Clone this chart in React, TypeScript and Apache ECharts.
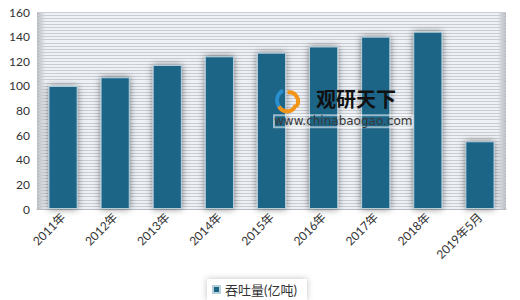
import React, { useEffect, useRef } from "react";
import * as echarts from "echarts";

const categories = ["2011年", "2012年", "2013年", "2014年", "2015年", "2016年", "2017年", "2018年", "2019年5月"];
const throughput = [100, 107, 117, 124, 127, 132, 140, 144, 55];
const yTicks = { min: 0, max: 160, interval: 20 };
const seriesName = "吞吐量(亿吨)";

export default function App() {
  const ref = useRef<HTMLDivElement>(null);
  useEffect(() => {
    if (!ref.current) return;
    const chart = echarts.init(ref.current, null, { renderer: "svg" });
    const font = "Lato, 'Noto Sans CJK SC', sans-serif";
    chart.setOption({
      animation: false,
      backgroundColor: "#ffffff",
      grid: {
        left: 37,
        right: 14,
        top: 12,
        bottom: 91,
        show: true,
        borderWidth: 0,
        backgroundColor: new echarts.graphic.LinearGradient(0, 0, 1, 0, [
          { offset: 0, color: "#b4b7bb" },
          { offset: 0.018, color: "#eef2f6" },
          { offset: 0.982, color: "#eef2f6" },
          { offset: 1, color: "#b4b7bb" },
        ]),
      },
      legend: {
        left: 207,
        top: 279,
        backgroundColor: "#ffffff",
        shadowColor: "rgba(0,0,0,0.25)",
        shadowBlur: 6,
        padding: [4, 10, 4, 5],
        itemWidth: 7,
        itemHeight: 7,
        itemGap: 4,
        icon: "rect",
        textStyle: { fontSize: 13, color: "#333", fontFamily: font },
        data: [seriesName],
      },
      xAxis: {
        type: "category",
        data: categories,
        axisLine: { show: true, lineStyle: { color: "#b8bcc2", width: 1 } },
        axisTick: { show: false },
        axisLabel: {
          rotate: 45,
          color: "#333",
          fontSize: 12,
          fontFamily: font,
          interval: 0,
          margin: 6,
        },
      },
      yAxis: [
        {
          type: "value",
          min: yTicks.min,
          max: yTicks.max,
          interval: yTicks.interval,
          axisLine: { show: false },
          axisTick: { show: false },
          splitLine: { show: false },
          axisLabel: { color: "#333", fontSize: 12, fontFamily: font, margin: 7 },
        },
        {
          type: "value",
          min: 0,
          max: 160,
          interval: 2.5,
          position: "left",
          axisLine: { show: false },
          axisTick: { show: false },
          axisLabel: { show: false },
          splitLine: { show: true, lineStyle: { color: "#c9cdd3", width: 1 } },
        },
      ],
      series: [
        {
          name: seriesName,
          type: "bar",
          yAxisIndex: 0,
          data: throughput,
          barWidth: "56%",
          itemStyle: {
            color: "#1b6587",
            borderColor: "#b7cedb",
            borderWidth: 1,
            shadowColor: "rgba(0,0,0,0.5)",
            shadowBlur: 7,
            shadowOffsetX: 0,
            shadowOffsetY: 0,
          },
        },
      ],
      graphic: [
        {
          type: "group",
          left: 273,
          top: 88,
          z: 100,
          children: [
            {
              type: "arc",
              z: 100,
              shape: { cx: 14, cy: 13, r: 11, startAngle: Math.PI * 0.55, endAngle: Math.PI * 1.35 },
              style: { stroke: "#2a8fd0", lineWidth: 4, fill: null },
            },
            {
              type: "arc",
              z: 100,
              shape: { cx: 15, cy: 14, r: 9, startAngle: Math.PI * 1.45, endAngle: Math.PI * 2.2 },
              style: { stroke: "#f29418", lineWidth: 4, fill: null },
            },
            {
              type: "arc",
              z: 100,
              shape: { cx: 13, cy: 15, r: 9, startAngle: Math.PI * 0.1, endAngle: Math.PI * 0.85 },
              style: { stroke: "#f29418", lineWidth: 4, fill: null },
            },
            {
              type: "text",
              z: 100,
              x: 42,
              y: 1,
              style: {
                text: "观研天下",
                fontSize: 20,
                lineHeight: 20,
                fontWeight: "bold",
                fill: "#111",
                fontFamily: "'Noto Sans CJK SC', sans-serif",
              },
            },
            {
              type: "text",
              z: 100,
              x: 0,
              y: 28,
              style: {
                text: "www.chinabaogao.com",
                fontSize: 12,
                lineHeight: 12,
                fill: "#3a3a3a",
                textBorderColor: "rgba(255,255,255,0.55)",
                textBorderWidth: 2,
                fontFamily: "'DejaVu Sans', sans-serif",
              },
            },
          ],
        },
      ],
    });
    return () => chart.dispose();
  }, []);
  return (
    <div
      ref={ref}
      style={{ position: "fixed", left: 0, top: 0, width: 520, height: 300 }}
    />
  );
}
